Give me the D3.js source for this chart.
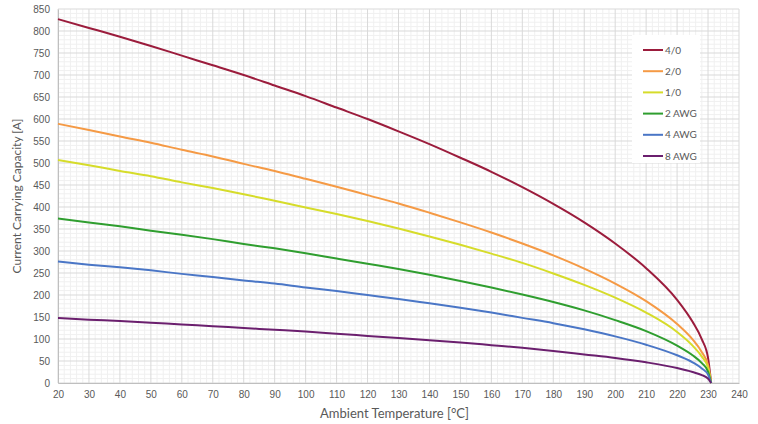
<!DOCTYPE html>
<html>
<head>
<meta charset="utf-8">
<script src="https://cdn.jsdelivr.net/npm/d3@7/dist/d3.min.js"></script>
<style>
  body { margin: 0; background: #fff; }
  svg { display: block; font-family: Lato, "Open Sans", sans-serif; }
  .tick text { fill: #595959; font-size: 10px; }
</style>
</head>
<body>
<div id="chart"></div>
<script>
'use strict';

// ambient temperature sample points [°C]
var temps = [20, 30, 40, 50, 60, 70, 80, 90, 100, 110, 120, 130, 140, 150, 160, 170, 180, 190, 200, 210, 220, 225, 228, 230, 231];

// current carrying capacity [A] per conductor size
var awg4_0 = [827, 807, 787, 766, 744, 722, 700, 676, 652, 626, 600, 572, 543, 512, 480, 445, 407, 365, 317, 261, 189, 139, 99, 57, 0];
var awg2_0 = [589, 575, 560, 546, 530, 515, 498, 482, 464, 446, 427, 408, 387, 365, 342, 317, 290, 260, 226, 186, 134, 99, 70, 41, 0];
var awg1_0 = [507, 495, 482, 470, 456, 443, 429, 414, 399, 384, 368, 351, 333, 314, 294, 273, 249, 223, 194, 160, 116, 85, 60, 35, 0];
var awg2 = [374, 365, 356, 346, 337, 327, 316, 306, 295, 283, 271, 259, 246, 232, 217, 201, 184, 165, 143, 118, 85, 63, 45, 26, 0];
var awg4 = [276, 269, 263, 256, 248, 241, 233, 226, 217, 209, 200, 191, 181, 171, 160, 148, 136, 122, 106, 87, 63, 47, 33, 19, 0];
var awg8 = [148, 144, 141, 137, 133, 129, 125, 121, 117, 112, 107, 102, 97, 92, 86, 80, 73, 65, 57, 47, 34, 25, 18, 10, 0];

var seriesNames = ["4/0", "2/0", "1/0", "2 AWG", "4 AWG", "8 AWG"];
var seriesColors = ["#9b1c3c", "#f59a45", "#d6dc2a", "#2f9e2f", "#4a76c6", "#6b1f6e"];
var seriesValues = [awg4_0, awg2_0, awg1_0, awg2, awg4, awg8];

var xTicks = d3.range(20, 241, 10);
var yTicks = d3.range(0, 851, 50);

var width = 758, height = 424;
var margin = {top: 9, right: 19, bottom: 41, left: 58};
var w = width - margin.left - margin.right;
var h = height - margin.top - margin.bottom;

var svg = d3.select("#chart").append("svg")
    .attr("width", width)
    .attr("height", height);

var g = svg.append("g").attr("transform", "translate(" + margin.left + "," + margin.top + ")");

var x = d3.scaleLinear().domain([20, 240]).range([0, w]);
var y = d3.scaleLinear().domain([0, 850]).range([h, 0]);

// minor grid
g.append("g").selectAll("line")
    .data(d3.range(20, 240, 2).filter(function(v) { return v % 10 != 0; }))
    .enter().append("line")
        .attr("x1", function(d) { return x(d); })
        .attr("x2", function(d) { return x(d); })
        .attr("y1", 0).attr("y2", h)
        .attr("stroke", "#f0f0f0").attr("stroke-width", 1);
g.append("g").selectAll("line")
    .data(d3.range(0, 850, 10).filter(function(v) { return v % 50 != 0; }))
    .enter().append("line")
        .attr("y1", function(d) { return y(d); })
        .attr("y2", function(d) { return y(d); })
        .attr("x1", 0).attr("x2", w)
        .attr("stroke", "#f0f0f0").attr("stroke-width", 1);

// major grid
g.append("g").selectAll("line")
    .data(xTicks)
    .enter().append("line")
        .attr("x1", function(d) { return x(d); })
        .attr("x2", function(d) { return x(d); })
        .attr("y1", 0).attr("y2", h)
        .attr("stroke", "#d9d9d9").attr("stroke-width", 1);
g.append("g").selectAll("line")
    .data(yTicks)
    .enter().append("line")
        .attr("y1", function(d) { return y(d); })
        .attr("y2", function(d) { return y(d); })
        .attr("x1", 0).attr("x2", w)
        .attr("stroke", "#d9d9d9").attr("stroke-width", 1);

// axes
var axisBottom = g.append("g")
    .attr("transform", "translate(0," + h + ")")
    .call(d3.axisBottom(x).tickValues(xTicks).tickSize(0).tickPadding(8));
axisBottom.select(".domain").attr("stroke", "#bfbfbf");

var axisLeft = g.append("g")
    .call(d3.axisLeft(y).tickValues(yTicks).tickSize(0).tickPadding(8));
axisLeft.select(".domain").attr("stroke", "#bfbfbf");

// curves
var line = d3.line()
    .x(function(d) { return x(d[0]); })
    .y(function(d) { return y(d[1]); })
    .curve(d3.curveMonotoneX);

seriesValues.forEach(function(vals, i) {
    g.append("path")
        .datum(temps.map(function(t, j) { return [t, vals[j]]; }))
        .attr("fill", "none")
        .attr("stroke", seriesColors[i])
        .attr("stroke-width", 2)
        .attr("d", line);
});

// legend
var legend = svg.append("g").attr("transform", "translate(632,35)");
legend.append("rect")
    .attr("width", 68).attr("height", 128)
    .attr("fill", "#fff");
seriesNames.forEach(function(name, i) {
    var row = legend.append("g").attr("transform", "translate(0," + (15 + i * 21.2) + ")");
    row.append("line")
        .attr("x1", 11).attr("x2", 31)
        .attr("stroke", seriesColors[i]).attr("stroke-width", 2);
    row.append("text")
        .attr("x", 33).attr("dy", "0.35em")
        .style("font-size", "10px")
        .attr("fill", "#595959")
        .text(name);
});

// axis titles
svg.append("text")
    .attr("x", margin.left + w / 2 - 4)
    .attr("y", 418)
    .attr("text-anchor", "middle")
    .style("font-size", "13px")
    .attr("fill", "#595959")
    .text("Ambient Temperature [°C]");

svg.append("text")
    .attr("transform", "translate(21," + (margin.top + h / 2) + ") rotate(-90)")
    .attr("text-anchor", "middle")
    .style("font-size", "12px")
    .attr("fill", "#595959")
    .text("Current Carrying Capacity [A]");
</script>
</body>
</html>
